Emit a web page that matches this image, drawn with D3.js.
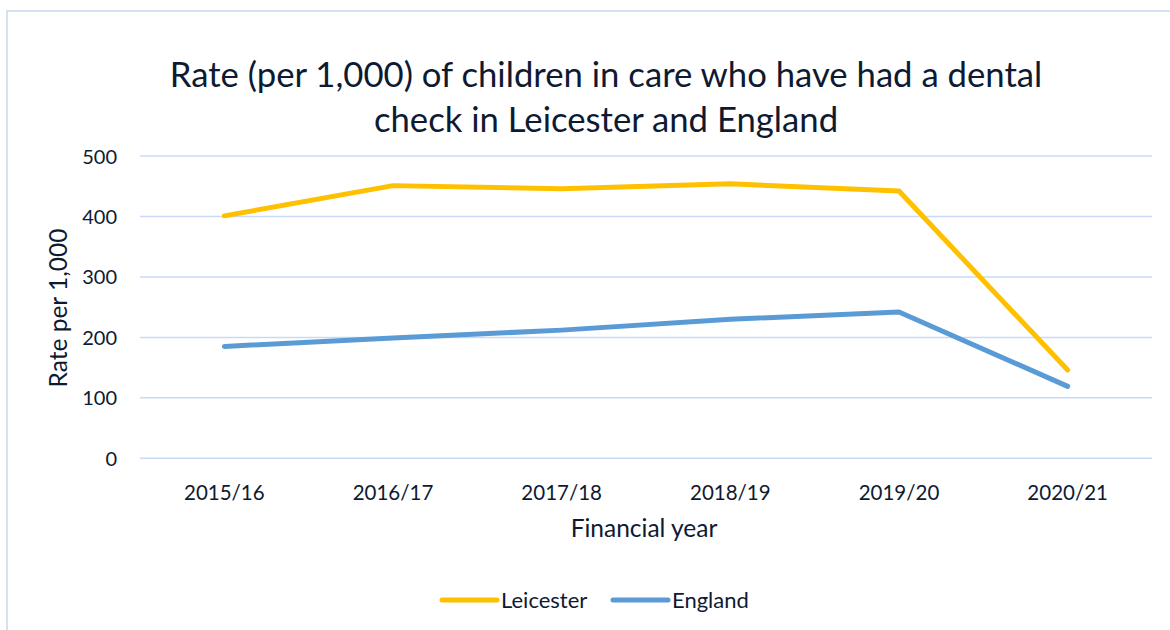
<!DOCTYPE html>
<html><head><meta charset="utf-8">
<script src="https://cdn.jsdelivr.net/npm/d3@7"></script>
<style>body{margin:0;background:#fff}svg{display:block}text{font-family:Lato,"Open Sans",sans-serif;fill:#0e1a32}</style>
</head><body><svg width="1170" height="630"></svg>
<script>
const categories = ["2015/16","2016/17","2017/18","2018/19","2019/20","2020/21"];
const leicester = [401, 451, 446, 454, 442, 146];
const england = [185, 199, 212, 230, 242, 119];
const yTicks = [0,100,200,300,400,500];
const seriesNames = ["Leicester","England"];
const seriesColors = ["#FFC000","#5B9BD5"];

const svg = d3.select("svg");
svg.append("path").attr("d","M7,630 V11 H1170").attr("fill","none").attr("stroke","#C6D9F1").attr("stroke-width",1.5);

const x = d3.scaleBand().domain(categories).range([140,1152]);
const y = d3.scaleLinear().domain([0,500]).range([458.3,156]);

svg.append("g").selectAll("line").data(yTicks).join("line")
  .attr("x1",140).attr("x2",1152).attr("y1",d=>y(d)).attr("y2",d=>y(d))
  .attr("stroke","#C9DAF8").attr("stroke-width",1.5);

const yAxis = svg.append("g").attr("transform","translate(117,0)")
  .call(d3.axisLeft(y).tickValues(yTicks).tickSize(0).tickPadding(0));
yAxis.select(".domain").remove();
yAxis.selectAll("text").attr("font-size",20).attr("dy","0.35em").style("font-family","Lato").style("fill","#0e1a32");

const xAxis = svg.append("g").attr("transform","translate(0,458.3)")
  .call(d3.axisBottom(x).tickSize(0).tickPadding(0));
xAxis.select(".domain").remove();
xAxis.selectAll("text").attr("font-size",20.5).attr("y",42).attr("dy",0).style("font-family","Lato").style("fill","#0e1a32");

const line = d3.line().x((d,i)=>x(categories[i])+x.bandwidth()/2).y(d=>y(d));
[leicester, england].forEach((s,i)=>{
  svg.append("path").attr("d",line(s)).attr("fill","none")
    .attr("stroke",seriesColors[i]).attr("stroke-width",5).attr("stroke-linejoin","round").attr("stroke-linecap","round");
});

const title = svg.append("text").attr("text-anchor","middle").attr("font-size",34.7);
title.append("tspan").attr("x",606).attr("y",87).text("Rate (per 1,000) of children in care who have had a dental");
title.append("tspan").attr("x",606).attr("y",132).text("check in Leicester and England");

svg.append("text").attr("x",644).attr("y",537).attr("text-anchor","middle").attr("font-size",24.5).text("Financial year");
svg.append("text").attr("transform","translate(67,308) rotate(-90)").attr("text-anchor","middle").attr("font-size",24.5).text("Rate per 1,000");

const legX = [442, 613];
seriesNames.forEach((n,i)=>{
  svg.append("line").attr("x1",legX[i]).attr("x2",legX[i]+55).attr("y1",600).attr("y2",600)
    .attr("stroke",seriesColors[i]).attr("stroke-width",5).attr("stroke-linecap","round");
  svg.append("text").attr("x",legX[i]+59).attr("y",608).attr("font-size",22).text(n);
});
</script></body></html>
